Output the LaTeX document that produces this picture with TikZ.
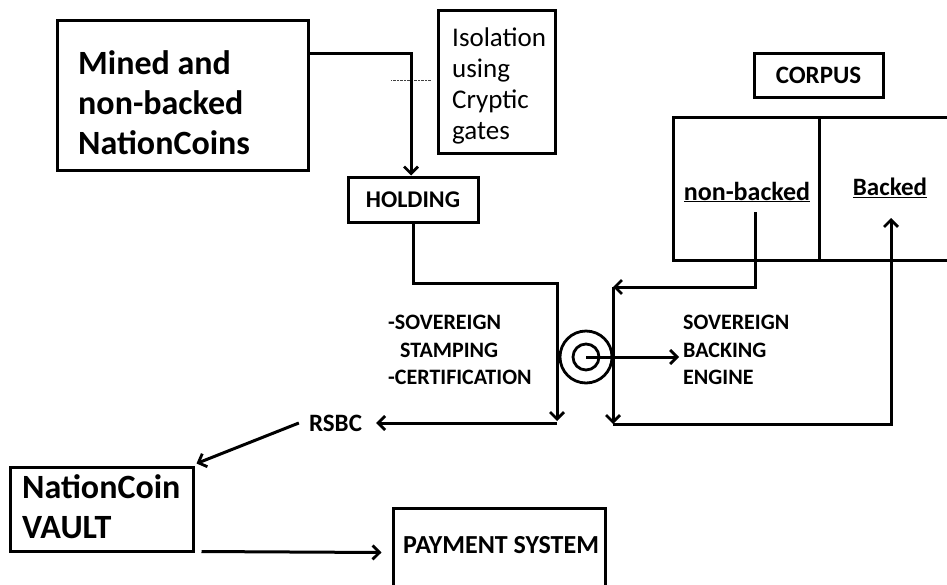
\documentclass[tikz,border=0pt]{standalone}
\usepackage{fontspec}
\setmainfont{Carlito}
\usetikzlibrary{arrows.meta}
\tikzset{
  x=1pt, y=-1pt,
  wire/.style={line width=3pt},
  arr/.style={wire, -{Straight Barb[length=7pt,width=14pt,line width=2.8pt]}},
  box/.style={draw, line width=3pt, inner sep=0pt},
  big/.style={font=\bfseries\fontsize{34}{40}\selectfont, align=left, inner sep=0pt},
  lbl/.style={font=\bfseries\fontsize{22}{27.5}\selectfont, align=left, inner sep=0pt},
  tag/.style={font=\bfseries\fontsize{25}{30}\selectfont, inner sep=0pt},
  plain/.style={font=\fontsize{27}{31}\selectfont, align=left, inner sep=0pt},
}
\begin{document}
\begin{tikzpicture}
\useasboundingbox (0,0) rectangle (947,584);

% source box
\node[box, minimum width=251pt, minimum height=150pt] (mined) at (182.5,95) {};
\node[big, anchor=west] (minedtxt) at (78,103) {Mined and\\non-backed\\NationCoins};

% isolation box
\node[box, minimum width=117pt, minimum height=143pt] (isol) at (496.5,81.5) {};
\node[plain, anchor=west] (isoltxt) at (452,86) {Isolation\\using\\Cryptic\\gates};
\draw[line width=1pt, black!75, dash pattern=on 2.5pt off 1pt] ([xshift=-6pt,yshift=1.5pt]isol.west) -- ++(-40,0);

% holding
\node[box, minimum width=130pt, minimum height=45pt, font=\bfseries\fontsize{24}{28}\selectfont] (holding) at (413,199.5) {HOLDING};
\draw[arr] ([yshift=-35pt]mined.north east) -| ([xshift=-2pt]holding.north);

% corpus
\node[box, minimum width=129pt, minimum height=44pt, font=\bfseries\fontsize{25}{30}\selectfont] (corpus) at (818.5,75) {CORPUS};
\draw[wire] (950,117) -- (673,117) -- (673,260) -- (950,260);
\draw[wire] (819,117) -- (819,260);
\node[tag, font=\bfseries\fontsize{26}{30}\selectfont] (nonbacked) at (747,192) {\underline{non-backed}};
\node[tag] (backed) at (890,188) {\underline{Backed}};

% backing engine symbol
\node[draw, circle, line width=2.8pt, minimum size=52pt, inner sep=0pt] (outer) at (586,357) {};
\node[draw, circle, line width=2.8pt, minimum size=26pt, inner sep=0pt] (inner) at (586,357) {};
\node[lbl, anchor=west] (engine) at (683,350) {SOVEREIGN\\BACKING\\ENGINE};
\draw[arr] (inner.center) -- ([xshift=-4pt]inner.center -| engine.west);

% stamping labels
\node[lbl, anchor=west] (stamp) at (388,350) {-SOVEREIGN\\\hspace{12pt}STAMPING\\-CERTIFICATION};

% holding route
\coordinate (hturn) at (557,283);
\coordinate (hend) at (557,421);
\draw[arr] (holding.south) |- (hturn) -- (hend);

% rsbc
\node[tag] (rsbc) at (335.5,423) {RSBC};
\coordinate (rsbcfrom) at (557,423);
\draw[arr] (rsbcfrom) -- ([xshift=14pt]rsbc.east);

% corpus loop
\coordinate (nbdrop) at (755,212);
\coordinate (loopnw) at (613,287);
\coordinate (loopsw) at (613,424);
\coordinate (bkup) at (891,218);
\draw[arr] (nbdrop) |- (loopnw);
\draw[arr] (loopnw) -- (loopsw);
\draw[arr] (loopsw) -| (bkup);

% vault
\node[box, minimum width=183pt, minimum height=84pt] (vault) at (101.5,509) {};
\node[big, anchor=west] (vaulttxt) at (22,507) {NationCoin\\VAULT};
\draw[arr] ([xshift=-10pt]rsbc.west) -- ([xshift=2pt,yshift=2pt]vault.north east);

% payment
\node[box, minimum width=212pt, minimum height=90pt] (payment) at (499,553) {};
\node[tag, font=\bfseries\fontsize{26}{30}\selectfont, anchor=west] (paytxt) at (403,545) {PAYMENT SYSTEM};
\draw[arr] ([xshift=7pt,yshift=1pt]vault.south east) -- ([xshift=-10pt]payment.west |- vault.south);
\end{tikzpicture}
\end{document}
